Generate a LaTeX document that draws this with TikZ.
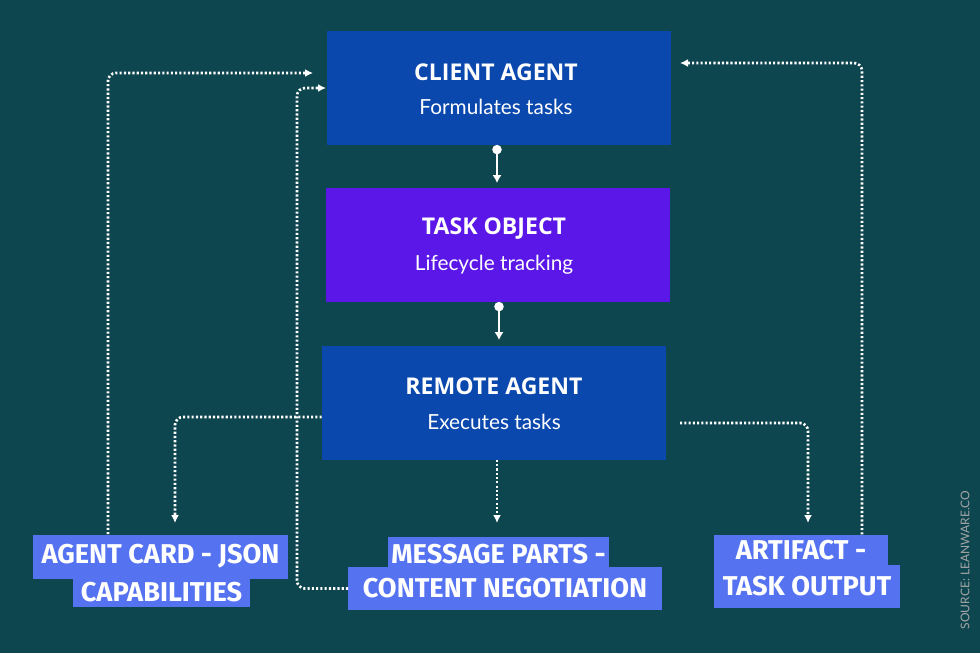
\documentclass[tikz,border=0pt]{standalone}
\usepackage{fontspec}
\setmainfont{Open Sans}
\newfontfamily\subfont{Lato}
\newfontfamily\labfont{Fira Sans}
\usetikzlibrary{positioning,arrows.meta}
\definecolor{bgteal}{HTML}{0E4650}
\definecolor{agentblue}{HTML}{0A48AD}
\definecolor{taskpurple}{HTML}{5B16E8}
\definecolor{labblue}{HTML}{5573F0}
\tikzset{
  stage/.style={minimum width=258pt,minimum height=85pt,inner sep=0pt},
  title/.style={text=white,font=\bfseries\fontsize{17.3}{20}\selectfont},
  sub/.style={text=white,font=\subfont\fontsize{15.6}{18}\selectfont},
  lab/.style={fill=labblue,text=white,inner sep=0pt,font=\labfont\bfseries\fontsize{20.4}{24}\selectfont},
  flow/.style={white,line width=2pt,dash pattern=on 1.6pt off 1.6pt,rounded corners=6pt,-{Latex[length=6pt,width=6pt]}},
  link/.style={white,line width=1.8pt,{Circle[length=7pt]}-{Latex[length=6pt,width=7pt]}}
}
\begin{document}
\begin{tikzpicture}[x=0.75pt,y=-0.75pt]
  \fill[bgteal] (0,0) rectangle (980,653);
  \node[stage,fill=agentblue] (client) at (499,88) {};
  \node[stage,fill=taskpurple] (task) at (498,245) {};
  \node[stage,fill=agentblue] (remote) at (494,403) {};
  \node[title] (clientT) at (496,72) {CLIENT AGENT};
  \node[sub] (clientS) at (496,107) {Formulates tasks};
  \node[title] (taskT) at (494,229) {TASK OBJECT};
  \node[sub] (taskS) at (494,265) {Lifecycle tracking};
  \node[title] (remoteT) at (494,386) {REMOTE AGENT};
  \node[sub] (remoteS) at (494,422) {Executes tasks};

  % bottom labels
  \node[lab,minimum width=191pt,minimum height=33pt] (cardA) at (160.5,556.5) {AGENT CARD - JSON};
  \node[lab,minimum width=133pt,minimum height=22pt,anchor=north] (cardB) at (161.5,577) {CAPABILITIES};
  \node[lab,minimum width=166pt,minimum height=26pt] (msgA) at (498.5,554) {MESSAGE PARTS -};
  \node[lab,minimum width=235pt,minimum height=32pt] (msgB) at (505,588.5) {CONTENT NEGOTIATION};
  \node[lab,minimum width=130pt,minimum height=23pt] (artA) at (801,550) {ARTIFACT -};
  \node[lab,minimum width=140pt,minimum height=32pt] (artB) at (807,586.5) {TASK OUTPUT};

  \node[rotate=90,text=gray!70,font=\subfont\fontsize{9}{10}\selectfont] (src) at (965,560) {SOURCE: LEANWARE.CO};

  % connectors
  \coordinate (c1) at (497,183);
  \coordinate (c2) at (499,340);
  \draw[link] (client.south -| c1) -- (c1);
  \draw[link] (task.south -| c2) -- (c2);
  \coordinate (r1) at (175,523);
  \coordinate (r2) at (497,523);
  \coordinate (r3) at (808,523);
  \coordinate (rr) at (680,423);
  \draw[flow] (remote.west |- 0,417) -| (r1);
  \draw[flow] (remote.south -| r2) -- (r2);
  \draw[flow] (rr) -| (r3);
  \coordinate (a1) at (313,73);
  \coordinate (a2) at (326,88);
  \coordinate (a3) at (680,63);
  \draw[flow] (cardA.north -| 108,0) |- (a1);
  \draw[flow] (msgB.west) -| (297,300) |- (a2);
  \draw[flow] (artA.north -| 862,0) |- (a3);
\end{tikzpicture}
\end{document}
